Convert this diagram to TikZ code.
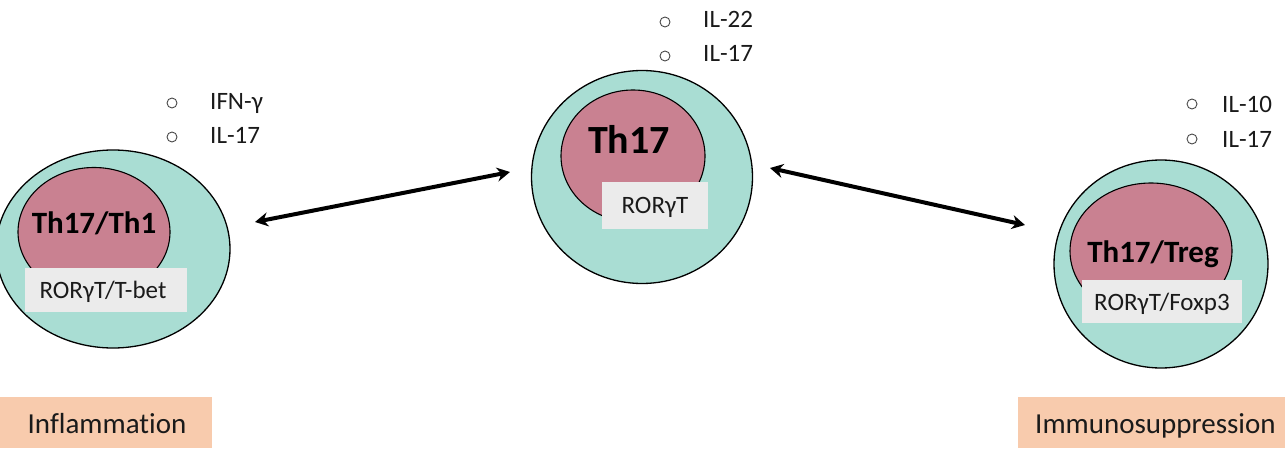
\documentclass[tikz,border=0pt]{standalone}
\usepackage{fontspec}
\setmainfont{Carlito}[Ligatures=NoCommon]
\usetikzlibrary{shapes.geometric,arrows.meta}
\definecolor{cellout}{HTML}{A9DDD3}
\definecolor{cellin}{HTML}{C98191}
\definecolor{tfbox}{HTML}{EBEBEB}
\definecolor{peach}{HTML}{F8CBAD}
\definecolor{ink}{HTML}{1A1A1A}
\begin{document}
\begin{tikzpicture}[x=1pt,y=-1pt,
  outercell/.style={ellipse,draw=black,line width=1.3pt,fill=cellout,inner sep=0pt},
  innercell/.style={ellipse,draw=black,line width=1.1pt,fill=cellin,inner sep=0pt},
  tfbox/.style={rectangle,fill=tfbox,inner sep=0pt},
  tftext/.style={font=\fontsize{25}{25}\selectfont,text=ink,anchor=base,inner sep=0pt},
  celltext/.style={font=\bfseries\fontsize{31}{31}\selectfont,text=black,anchor=base,inner sep=0pt},
  cytext/.style={font=\fontsize{25}{25}\selectfont,text=ink,anchor=base west,inner sep=0pt},
  bulletc/.style={circle,draw=ink!80,line width=0.9pt,minimum size=10pt,inner sep=0pt},
  outcome/.style={rectangle,fill=peach,inner sep=0pt},
  outtext/.style={font=\fontsize{29}{29}\selectfont,text=ink,anchor=base,inner sep=0pt},
  dblarrow/.style={line width=4pt,{Stealth[length=13pt,width=14pt]}-{Stealth[length=13pt,width=14pt]}}
]
\useasboundingbox (0,0) rectangle (1285,460);
\clip (0,0) rectangle (1285,460);

% ---- left cell: Th17/Th1 ----
\node[outercell,minimum width=234pt,minimum height=198pt] (c1) at (113,249) {};
\node[innercell,minimum width=152pt,minimum height=129pt] (i1) at (94,232) {};
\node[tfbox,minimum width=162pt,minimum height=44pt] (t1) at (106,290) {};
\node[celltext] (n1) at (94,233) {Th17/Th1};
\node[tftext] (tt1) at (103,298) {RORγT/T-bet};
\node[bulletc] (b11) at (172,103) {};
\node[bulletc] (b12) at (172,137) {};
\node[cytext] (l11) at (210,110) {IFN-γ};
\node[cytext] (l12) at (210,143) {IL-17};

% ---- middle cell: Th17 ----
\node[outercell,minimum width=221pt,minimum height=213pt] (c2) at (642,177) {};
\node[innercell,minimum width=144pt,minimum height=132pt] (i2) at (633,156) {};
\node[tfbox,minimum width=106pt,minimum height=47pt] (t2) at (655,205.5) {};
\node[celltext,font=\bfseries\fontsize{40}{40}\selectfont] (n2) at (629,153) {Th17};
\node[tftext] (tt2) at (655,213) {RORγT};
\node[bulletc] (b21) at (665,22) {};
\node[bulletc] (b22) at (665,56) {};
\node[cytext] (l21) at (703,28) {IL-22};
\node[cytext] (l22) at (703,62) {IL-17};

% ---- right cell: Th17/Treg ----
\node[outercell,minimum width=214pt,minimum height=208pt] (c3) at (1161,264) {};
\node[innercell,minimum width=162pt,minimum height=136pt] (i3) at (1151,251) {};
\node[tfbox,minimum width=160pt,minimum height=43pt] (t3) at (1162,301.5) {};
\node[celltext] (n3) at (1153,262) {Th17/Treg};
\node[tftext] (tt3) at (1162,310) {RORγT/Foxp3};
\node[bulletc] (b31) at (1192,104) {};
\node[bulletc] (b32) at (1192,139) {};
\node[cytext] (l31) at (1222,112) {IL-10};
\node[cytext] (l32) at (1222,147) {IL-17};

% ---- arrows ----
\coordinate (a1s) at (255,222);
\coordinate (a1e) at (510,172);
\coordinate (a2s) at (770,168);
\coordinate (a2e) at (1025,225);
\draw[dblarrow] (a1s) -- (a1e);
\draw[dblarrow] (a2s) -- (a2e);

% ---- outcomes ----
\node[outcome,minimum width=212pt,minimum height=51pt] (o1) at (106,422.5) {};
\node[outtext] (ot1) at (107,433) {Inflammation};
\node[outcome,minimum width=282pt,minimum height=51pt] (o2) at (1159,422.5) {};
\node[outtext,anchor=base west] (ot2) at (1035,433) {Immunosuppression};
\end{tikzpicture}
\end{document}
